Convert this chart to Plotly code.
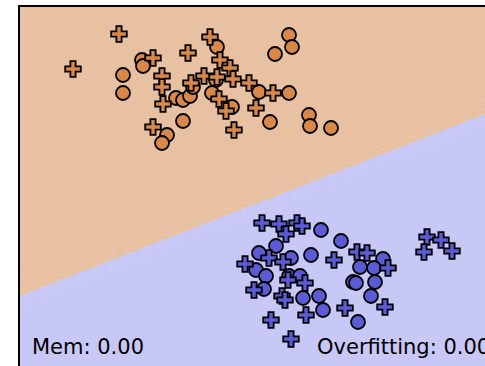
import numpy as np
import plotly.graph_objects as go

# Class A (orange) samples
a_circle_x = [1.22, 1.23, 1.03, 1.03, 1.56, 1.63, 1.70, 1.63, 1.47, 1.42, 1.97, 2.69,
              2.72, 2.55, 1.73, 1.96, 1.92, 2.12, 2.39, 2.69, 2.50, 2.89, 2.90, 3.11]
a_circle_y = [3.06, 3.00, 2.91, 2.73, 2.68, 2.66, 2.70, 2.45, 2.31, 2.23, 3.19, 3.31,
              3.19, 3.12, 2.79, 2.86, 2.73, 2.59, 2.74, 2.73, 2.44, 2.51, 2.40, 2.38]
a_cross_x = [0.99, 0.53, 1.33, 1.68, 1.42, 1.42, 1.43, 1.33, 1.90, 2.00, 2.10, 1.84,
             1.97, 2.13, 1.71, 1.99, 2.06, 2.14, 2.29, 2.53, 2.36]
a_cross_y = [3.32, 2.97, 3.08, 3.13, 2.90, 2.79, 2.62, 2.39, 3.29, 3.06, 2.98, 2.90,
             2.89, 2.87, 2.83, 2.67, 2.55, 2.36, 2.83, 2.73, 2.58]

# Class B (blue) samples
b_circle_x = [3.01, 3.21, 2.56, 2.39, 2.71, 2.91, 2.36, 2.46, 2.69, 2.80, 2.44, 2.99,
              2.83, 3.03, 3.38, 3.63, 3.40, 3.54, 3.33, 3.36, 3.55, 3.51]
b_circle_y = [1.36, 1.25, 1.20, 1.13, 1.08, 1.11, 0.96, 0.90, 0.90, 0.90, 0.77, 0.70,
              0.68, 0.56, 0.44, 1.07, 0.99, 0.98, 0.84, 0.83, 0.84, 0.70]
b_cross_x = [2.42, 2.59, 2.77, 2.82, 2.66, 2.49, 2.63, 3.14, 2.25, 2.68, 2.85, 2.34, 2.62,
             2.65, 2.86, 3.25, 2.51, 2.71, 3.37, 3.47, 3.68, 3.65, 4.07, 4.21, 4.04, 4.32]
b_cross_y = [1.43, 1.42, 1.43, 1.40, 1.32, 1.08, 1.04, 1.06, 1.02, 0.86, 0.83, 0.76, 0.70,
             0.66, 0.51, 0.58, 0.46, 0.27, 1.14, 1.13, 0.98, 0.59, 1.29, 1.26, 1.14, 1.15]

# Linear decision boundary: y = intercept + slope * x
intercept = 0.75
slope = 0.391

mem_value = 0.00
overfit_value = 0.00

x_range = [0.0, 4.65]
y_range = [0.0, 3.59]

ORANGE_BG = "#E8C1A2"
BLUE_BG = "#C8C8F6"
ORANGE_PT = "#D8884A"
BLUE_PT = "#5B5BD5"

gx = np.linspace(x_range[0], x_range[1], 60)
gy = np.linspace(y_range[0], y_range[1], 60)
GX, GY = np.meshgrid(gx, gy)
score = GY - (intercept + slope * GX)

fig = go.Figure()

fig.add_trace(go.Contour(
    x=gx, y=gy, z=score,
    zmin=-1, zmax=1,
    colorscale=[[0, BLUE_BG], [0.5, BLUE_BG], [0.5, ORANGE_BG], [1, ORANGE_BG]],
    contours=dict(start=-0.15, end=0.10, size=0.05, coloring="fill"),
    line=dict(color="rgba(255,255,255,0.22)", width=0.6, dash="dash"),
    showscale=False, hoverinfo="skip",
))

marker_line = dict(color="black", width=1.8)

for xs, ys, col, sym, size in [
    (a_circle_x, a_circle_y, ORANGE_PT, "circle", 14),
    (a_cross_x, a_cross_y, ORANGE_PT, "cross", 13),
    (b_circle_x, b_circle_y, BLUE_PT, "circle", 14),
    (b_cross_x, b_cross_y, BLUE_PT, "cross", 13),
]:
    fig.add_trace(go.Scatter(
        x=xs, y=ys, mode="markers",
        marker=dict(symbol=sym, size=size, color=col, line=marker_line),
        showlegend=False, hoverinfo="skip",
    ))

text_font = dict(family="DejaVu Sans", size=21, color="black")
fig.add_annotation(x=0.022, y=0.014, xref="paper", yref="paper",
                   xanchor="left", yanchor="bottom", showarrow=False,
                   text=f"Mem: {mem_value:.2f}", font=text_font)
fig.add_annotation(x=0.634, y=0.014, xref="paper", yref="paper",
                   xanchor="left", yanchor="bottom", showarrow=False,
                   text=f"Overfitting: {overfit_value:.2f}", font=text_font)

fig.update_layout(
    width=485, height=366,
    margin=dict(l=20, r=0, t=7, b=0),
    paper_bgcolor="white", plot_bgcolor="white",
    showlegend=False,
    xaxis=dict(range=x_range, side="top", showline=True, linecolor="black",
               linewidth=1.5, showgrid=False, zeroline=False,
               showticklabels=False, ticks=""),
    yaxis=dict(range=y_range, showline=True, linecolor="black",
               linewidth=1.5, showgrid=False, zeroline=False,
               showticklabels=False, ticks=""),
)

fig.write_html("out.html")
